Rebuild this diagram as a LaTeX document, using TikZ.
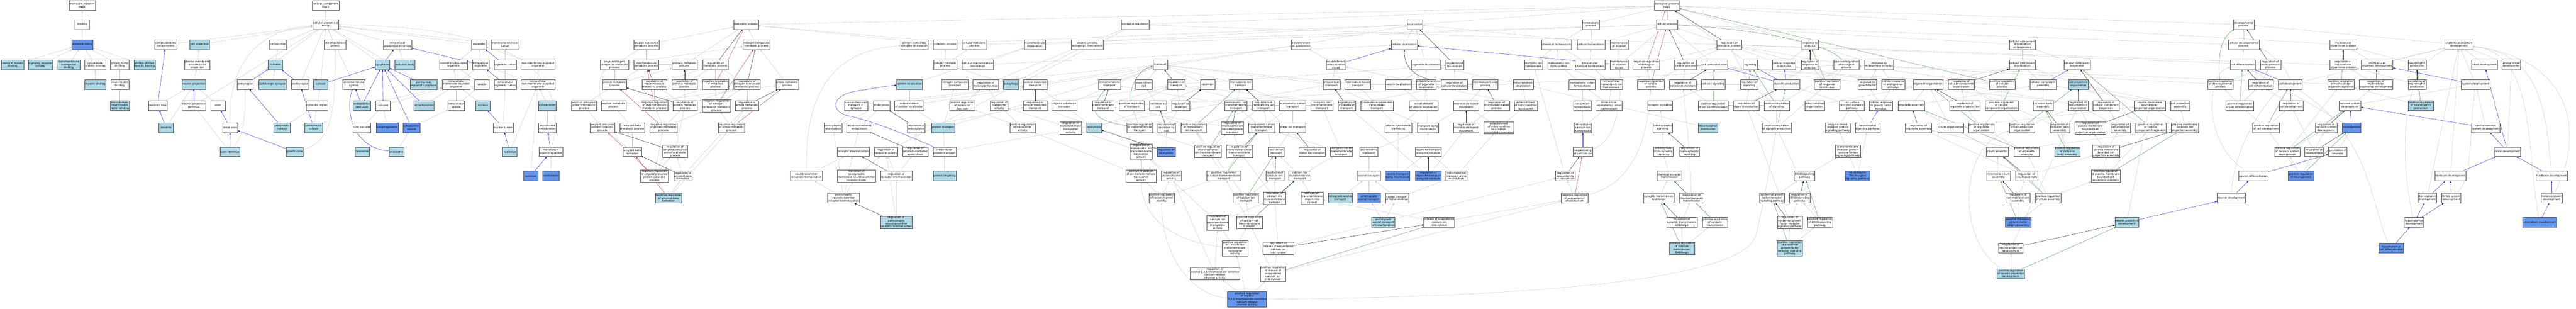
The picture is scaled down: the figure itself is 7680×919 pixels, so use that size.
\documentclass[tikz,border=0pt]{standalone}
\usepackage{fontspec}
\setmainfont{DejaVu Sans}
\usetikzlibrary{arrows.meta,backgrounds}
\definecolor{isagray}{HTML}{C0C0C0}
\definecolor{partblue}{HTML}{0000FF}
\definecolor{negred}{HTML}{B22222}
\definecolor{posgreen}{HTML}{228B22}
\definecolor{hitlight}{HTML}{ADD8E6}
\definecolor{hitdark}{HTML}{6495ED}
\tikzset{
  term/.style={draw=black!70, line width=0.7pt, fill=white, rectangle, align=center,
    font=\fontsize{7.8}{8.8}\selectfont, inner xsep=1.5pt, inner ysep=1.5pt,
    minimum width=43pt, minimum height=29pt},
  lterm/.style={term, fill=hitlight},
  dterm/.style={term, fill=hitdark},
  isa/.style={draw=isagray, line width=0.6pt, -{Triangle[length=5pt,width=4pt]}},
  partof/.style={isa, draw=partblue},
  regul/.style={isa, draw=black},
  negreg/.style={isa, draw=negred},
  posreg/.style={isa, draw=posgreen},
}
\begin{document}
\begin{tikzpicture}[x=1pt,y=-1pt]
  \useasboundingbox (0,0) rectangle (7680,919);
  \node[term] (mf) at (245,17) {molecular\_function\\Hap1};
  \node[term] (binding) at (245,73) {binding};
  \node[dterm] (protbind) at (245,133) {protein binding};
  \node[lterm] (idprot) at (37,193) {identical protein\\binding};
  \node[lterm] (sigrec) at (121,193) {signaling receptor\\binding};
  \node[lterm] (tmtb) at (205,193) {transmembrane\\transporter\\binding};
  \node[term] (cytoskb) at (284,193) {cytoskeletal\\protein binding};
  \node[term] (gfb) at (357,193) {growth factor\\binding};
  \node[lterm] (pdsb) at (431,193) {protein domain\\specific binding};
  \node[lterm] (myosin) at (284,251) {myosin binding};
  \node[term] (ntb) at (357,251) {neurotrophin\\binding};
  \node[lterm] (bdnf) at (357,314) {brain-derived\\neurotrophic\\factor binding};

  \node[term] (cc) at (971,17) {cellular\_component\\Hap1};
  \node[term] (cae) at (971,73) {cellular anatomical\\entity};
  \node[term] (somato) at (494,133) {somatodendritic\\compartment};
  \node[lterm] (cellproj) at (595,133) {cell projection};
  \node[term] (celljunc) at (829,133) {cell junction};
  \node[term] (spg) at (999,133) {site of polarized\\growth};
  \node[term] (ias) at (1185,133) {intracellular\\anatomical structure};
  \node[term] (organelle) at (1428,133) {organelle};
  \node[term] (mel) at (1506,133) {membrane-enclosed\\lumen};
  \node[term] (pmbcp) at (588,193) {plasma membrane\\bounded cell\\projection};
  \node[lterm] (synapse) at (821,193) {synapse};
  \node[lterm] (cytoplasm) at (1140,193) {cytoplasm};
  \node[lterm] (inclbody) at (1207,193) {inclusion body};
  \node[term] (mbo) at (1352,193) {membrane-bounded\\organelle};
  \node[term] (io) at (1433,193) {intracellular\\organelle};
  \node[term] (ol) at (1506,193) {organelle lumen};
  \node[term] (nmbo) at (1604,193) {non-membrane-bounded\\organelle};
  \node[lterm] (neuproj) at (578,251) {neuron projection};
  \node[term] (presyn) at (731,251) {presynapse};
  \node[lterm] (gaba) at (812,251) {GABA-ergic synapse};
  \node[term] (postsyn) at (894,251) {postsynapse};
  \node[lterm] (cytosol) at (956,251) {cytosol};
  \node[term] (endomem) at (1055,251) {endomembrane\\system};
  \node[lterm] (perinuc) at (1263,251) {perinuclear\\region of cytoplasm};
  \node[term] (imbo) at (1360,251) {intracellular\\membrane-bounded\\organelle};
  \node[term] (vesicle) at (1437,251) {vesicle};
  \node[term] (iol) at (1506,251) {intracellular\\organelle lumen};
  \node[term] (inmbo) at (1604,251) {intracellular\\non-membrane-bounded\\organelle};
  \node[term] (dentree) at (470,314) {dendritic tree};
  \node[term] (npterm) at (578,314) {neuron projection\\terminus};
  \node[term] (axon) at (650,314) {axon};
  \node[term] (cytosreg) at (945,314) {cytosolic region};
  \node[lterm] (er) at (1079,314) {endoplasmic\\reticulum};
  \node[term] (vacuole) at (1142,314) {vacuole};
  \node[lterm] (mito) at (1264,314) {mitochondrion};
  \node[term] (ivesicle) at (1360,314) {intracellular\\vesicle};
  \node[lterm] (nucleus) at (1440,314) {nucleus};
  \node[lterm] (cytoskel) at (1632,314) {cytoskeleton};
  \node[lterm] (dendrite) at (495,380) {dendrite};
  \node[term] (distaxon) at (686,380) {distal axon};
  \node[lterm] (presyncyt) at (841,380) {presynaptic\\cytosol};
  \node[lterm] (postsyncyt) at (935,380) {postsynaptic\\cytosol};
  \node[term] (lytvac) at (1079,380) {lytic vacuole};
  \node[dterm] (autophag) at (1154,380) {autophagosome};
  \node[dterm] (cytves) at (1227,380) {cytoplasmic\\vesicle};
  \node[term] (nuclumen) at (1500,380) {nuclear lumen};
  \node[term] (mtcyto) at (1632,380) {microtubule\\cytoskeleton};
  \node[lterm] (axonterm) at (685,452) {axon terminus};
  \node[lterm] (growthcone) at (878,452) {growth cone};
  \node[lterm] (lysosome) at (1080,452) {lysosome};
  \node[lterm] (endosome) at (1182,452) {endosome};
  \node[lterm] (nucleolus) at (1520,452) {nucleolus};
  \node[term] (mtoc) at (1642,452) {microtubule\\organizing center};
  \node[dterm] (centriole) at (1582,524) {centriole};
  \node[dterm] (centrosome) at (1643,524) {centrosome};

  \node[term] (aplmp) at (1741,314) {amyloid precursor\\protein metabolic\\process};
  \node[term] (pmp) at (1832,251) {protein metabolic\\process};
  \node[term] (onmp) at (1832,193) {organonitrogen\\compound metabolic\\process};
  \node[term] (peptmp) at (1829,314) {peptide metabolic\\process};
  \node[term] (aplcp) at (1796,380) {amyloid precursor\\protein catabolic\\process};
  \node[term] (abmp) at (1885,380) {amyloid-beta\\metabolic process};
  \node[term] (abform) at (1885,452) {amyloid-beta\\formation};
  \node[term] (osmp) at (1927,133) {organic substance\\metabolic process};
  \node[term] (mmp) at (1927,193) {macromolecule\\metabolic process};
  \node[term] (rmmp) at (1951,251) {regulation of\\macromolecule\\metabolic process};
  \node[term] (nrmmp) at (1951,314) {negative regulation\\of macromolecule\\metabolic process};
  \node[term] (nraplcp) at (1951,524) {negative regulation\\of amyloid precursor\\protein catabolic\\process};
  \node[term] (metproc) at (2224,73) {metabolic process};
  \node[term] (ncmp) at (2255,133) {nitrogen compound\\metabolic process};
  \node[term] (primp) at (2041,193) {primary metabolic\\process};
  \node[term] (rmp) at (2133,193) {regulation of\\metabolic process};
  \node[term] (rprimp) at (2041,251) {regulation of\\primary metabolic\\process};
  \node[term] (nrmp) at (2133,251) {negative regulation\\of metabolic\\process};
  \node[term] (rncmp) at (2227,251) {regulation of\\nitrogen compound\\metabolic process};
  \node[term] (amidemp) at (2347,251) {amide metabolic\\process};
  \node[term] (rpmp) at (2042,314) {regulation of\\protein metabolic\\process};
  \node[term] (nrncmp) at (2136,315) {negative regulation\\of nitrogen\\compound metabolic\\process};
  \node[term] (ramp) at (2227,314) {regulation of\\amide metabolic\\process};
  \node[term] (nrpmp) at (1978,380) {negative regulation\\of protein metabolic\\process};
  \node[term] (nramp) at (2181,380) {negative regulation\\of amide metabolic\\process};
  \node[term] (raplcp) at (2013,451) {regulation of\\amyloid precursor\\protein catabolic\\process};
  \node[term] (rabform) at (2036,524) {regulation of\\amyloid-beta\\formation};
  \node[lterm] (nrabform) at (1993,590) {negative regulation\\of amyloid-beta\\formation};

  \node[term] (ntri) at (2404,524) {neurotransmitter\\receptor internalization};
  \node[term] (postendo) at (2484,380) {postsynaptic\\endocytosis};
  \node[term] (rme) at (2562,380) {receptor-mediated\\endocytosis};
  \node[term] (recint) at (2544,452) {receptor internalization};
  \node[term] (vmts) at (2552,314) {vesicle-mediated\\transport in\\synapse};
  \node[term] (rpmnrl) at (2553,524) {regulation of\\postsynaptic\\membrane neurotransmitter\\receptor levels};
  \node[term] (pntri) at (2515,590) {postsynaptic\\neurotransmitter\\receptor internalization};

  \node[term] (pccl) at (2726,133) {protein-containing\\complex localization};
  \node[term] (catproc) at (2818,133) {catabolic process};
  \node[term] (cmp) at (2905,133) {cellular metabolic\\process};
  \node[term] (mmloc) at (3085,133) {macromolecule\\localization};
  \node[term] (pua) at (3241,133) {process utilizing\\autophagic mechanism};
  \node[term] (ccp) at (2818,193) {cellular catabolic\\process};
  \node[term] (cmml) at (2915,193) {cellular macromolecule\\localization};
  \node[lterm] (protloc) at (2711,251) {protein localization};
  \node[term] (nctrans) at (2847,251) {nitrogen compound\\transport};
  \node[term] (rmf) at (2939,251) {regulation of\\molecular function};
  \node[lterm] (autophagy) at (3014,251) {autophagy};
  \node[term] (vmt) at (3086,251) {vesicle-mediated\\transport};
  \node[term] (endocyt) at (2628,314) {endocytosis};
  \node[term] (eprotloc) at (2711,314) {establishment\\of protein localization};
  \node[term] (prmf) at (2869,314) {positive regulation\\of molecular\\function};
  \node[term] (rta) at (2979,314) {regulation of\\transporter\\activity};
  \node[term] (rvmt) at (3086,314) {regulation of\\vesicle-mediated\\transport};
  \node[term] (ost) at (3173,314) {organic substance\\transport};
  \node[term] (rendo) at (2731,380) {regulation of\\endocytosis};
  \node[lterm] (prottrans) at (2812,380) {protein transport};
  \node[term] (prta) at (3048,380) {positive regulation\\of transporter\\activity};
  \node[term] (rtta) at (3192,381) {regulation of\\transmembrane\\transporter\\activity};
  \node[term] (rbq) at (2641,452) {regulation of\\biological quality};
  \node[term] (rrme) at (2729,452) {regulation of\\receptor-mediated\\endocytosis};
  \node[term] (ipt) at (2816,452) {intracellular\\protein transport};
  \node[term] (rri) at (2672,524) {regulation of\\receptor internalization};
  \node[lterm] (prottarget) at (2816,524) {protein targeting};
  \node[lterm] (rpntri) at (2672,662) {regulation of\\postsynaptic\\neurotransmitter\\receptor internalization};

  \node[term] (bioreg) at (3384,73) {biological regulation};
  \node[term] (transport) at (3459,193) {transport};
  \node[term] (tmt) at (3308,251) {transmembrane\\transport};
  \node[term] (efc) at (3410,251) {export from\\cell};
  \node[term] (rtrans) at (3507,251) {regulation of\\transport};
  \node[term] (secretion) at (3600,251) {secretion};
  \node[term] (mit) at (3699,251) {monoatomic ion\\transport};
  \node[term] (rtmt) at (3289,314) {regulation of\\transmembrane\\transport};
  \node[term] (prt) at (3374,314) {positive regulation\\of transport};
  \node[term] (sbc) at (3453,314) {secretion by\\cell};
  \node[term] (rsec) at (3520,314) {regulation of\\secretion};
  \node[term] (mitt) at (3685,314) {monoatomic ion\\transmembrane\\transport};
  \node[term] (rmit) at (3767,314) {regulation of\\monoatomic ion\\transport};
  \node[term] (mct) at (3854,314) {monoatomic cation\\transport};
  \node[lterm] (exocyt) at (3262,380) {exocytosis};
  \node[term] (prtmt) at (3398,380) {positive regulation\\of transmembrane\\transport};
  \node[term] (rsbc) at (3478,380) {regulation of\\secretion by\\cell};
  \node[term] (prmit) at (3558,380) {positive regulation\\of monoatomic\\ion transport};
  \node[term] (rmitt) at (3674,381) {regulation of\\monoatomic ion\\transmembrane\\transport};
  \node[term] (mctt) at (3761,380) {monoatomic cation\\transmembrane\\transport};
  \node[term] (metit) at (3854,380) {metal ion transport};
  \node[term] (rmitta) at (3402,451) {regulation of\\monoatomic ion\\transmembrane\\transporter\\activity};
  \node[dterm] (rexo) at (3477,452) {regulation of\\exocytosis};
  \node[term] (prmitt) at (3601,451) {positive regulation\\of monoatomic\\ion transmembrane\\transport};
  \node[term] (rmctt) at (3695,451) {regulation of\\monoatomic cation\\transmembrane\\transport};
  \node[term] (cait) at (3804,452) {calcium ion\\transport};
  \node[term] (pritta) at (3402,524) {positive regulation\\of ion transmembrane\\transporter\\activity};
  \node[term] (rcca) at (3492,524) {regulation of\\cation channel\\activity};
  \node[term] (prctt) at (3648,524) {positive regulation\\of cation transmembrane\\transport};
  \node[term] (rcit) at (3801,524) {regulation of\\calcium ion\\transport};
  \node[term] (prcca) at (3463,590) {positive regulation\\of cation channel\\activity};
  \node[term] (prcit) at (3714,590) {positive regulation\\of calcium ion\\transport};
  \node[term] (rcitt) at (3800,590) {regulation of\\calcium ion\\transmembrane\\transport};
  \node[term] (rcitta) at (3630,663) {regulation of\\calcium ion\\transmembrane\\transporter\\activity};
  \node[term] (prcitt) at (3725,662) {positive regulation\\of calcium ion\\transmembrane\\transport};
  \node[term] (prcitta) at (3682,739) {positive regulation\\of calcium ion\\transmembrane\\transporter\\activity};
  \node[term] (rrscc) at (3811,739) {regulation of\\release of sequestered\\calcium ion\\into cytosol};
  \node[term] (rip3) at (3622,815) {regulation of\\inositol 1,4,5-trisphosphate-sensitive\\calcium-release\\channel activity};
  \node[term] (prrscc) at (3795,815) {positive regulation\\of release of\\sequestered\\calcium ion\\into cytosol};
  \node[dterm] (prip3) at (3718,891) {positive regulation\\of inositol\\1,4,5-trisphosphate-sensitive\\calcium-release\\channel activity};

  \node[term] (localization) at (4218,73) {localization};
  \node[term] (eloc) at (3879,133) {establishment\\of localization};
  \node[term] (cellloc) at (4186,133) {cellular localization};
  \node[term] (elocc) at (3983,193) {establishment\\of localization\\in cell};
  \node[term] (orgloc) at (4251,193) {organelle localization};
  \node[term] (rloc) at (4337,193) {regulation of\\localization};
  \node[term] (it) at (3970,251) {intracellular\\transport};
  \node[term] (mtbt) at (4048,251) {microtubule-based\\transport};
  \node[term] (vesloc) at (4169,251) {vesicle localization};
  \node[term] (eorgloc) at (4252,251) {establishment\\of organelle\\localization};
  \node[term] (rcellloc) at (4336,251) {regulation of\\cellular localization};
  \node[term] (mtbp) at (4428,251) {microtubule-based\\process};
  \node[term] (iitt) at (3941,314) {inorganic ion\\transmembrane\\transport};
  \node[term] (rit) at (4015,314) {regulation of\\intracellular\\transport};
  \node[term] (cdit) at (4105,314) {cytoskeleton-dependent\\intracellular\\transport};
  \node[term] (evl) at (4244,314) {establishment\\of vesicle localization};
  \node[term] (mtbm) at (4371,314) {microtubule-based\\movement};
  \node[term] (rmtbp) at (4462,314) {regulation of\\microtubule-based\\process};
  \node[term] (vct) at (4169,380) {vesicle cytoskeletal\\trafficking};
  \node[term] (tam) at (4257,380) {transport along\\microtubule};
  \node[term] (rmtbm) at (4371,380) {regulation of\\microtubule-based\\movement};
  \node[term] (emlmm) at (4469,381) {establishment\\of mitochondrion\\localization,\\microtubule-mediated};
  \node[term] (rmetit) at (3912,452) {regulation of\\metal ion transport};
  \node[term] (ictt) at (3999,452) {inorganic cation\\transmembrane\\transport};
  \node[term] (adt) at (4081,452) {axo-dendritic\\transport};
  \node[term] (otam) at (4258,452) {organelle transport\\along microtubule};
  \node[term] (catt) at (3875,524) {calcium ion\\transmembrane\\transport};
  \node[term] (axtrans) at (4081,524) {axonal transport};
  \node[dterm] (vtam) at (4166,524) {vesicle transport\\along microtubule};
  \node[dterm] (rotam) at (4258,524) {regulation of\\organelle transport\\along microtubule};
  \node[term] (mtam) at (4342,524) {mitochondrion\\transport along\\microtubule};
  \node[term] (citic) at (3912,590) {calcium ion\\transmembrane\\import into\\cytosol};
  \node[lterm] (rat) at (3996,590) {retrograde axonal\\transport};
  \node[dterm] (aat) at (4081,590) {anterograde\\axonal transport};
  \node[term] (atm) at (4165,590) {axonal transport\\of mitochondrion};
  \node[lterm] (aatm) at (4124,662) {anterograde\\axonal transport\\of mitochondrion};
  \node[term] (rscc) at (4291,662) {release of sequestered\\calcium ion\\into cytosol};

  \node[term] (bp) at (4970,17) {biological\_process\\Hap1};
  \node[term] (homeo) at (4743,73) {homeostatic\\process};
  \node[term] (cellproc) at (4970,73) {cellular process};
  \node[term] (chemhom) at (4641,133) {chemical homeostasis};
  \node[term] (cellhom) at (4743,133) {cellular homeostasis};
  \node[term] (mloc) at (4827,133) {maintenance\\of location};
  \node[term] (rbp) at (5155,133) {regulation of\\biological process};
  \node[term] (iih) at (4572,193) {inorganic ion\\homeostasis};
  \node[term] (mih) at (4647,193) {monoatomic ion\\homeostasis};
  \node[term] (ichh) at (4740,193) {intracellular\\chemical homeostasis};
  \node[term] (mlc) at (4827,193) {maintenance\\of location\\in cell};
  \node[term] (nrbp) at (4908,193) {negative regulation\\of biological\\process};
  \node[term] (rcp) at (5025,193) {regulation of\\cellular process};
  \node[term] (cellcomm) at (5111,193) {cell communication};
  \node[term] (mitoloc) at (4541,251) {mitochondrion\\localization};
  \node[term] (mch) at (4717,251) {monoatomic cation\\homeostasis};
  \node[term] (imih) at (4804,251) {intracellular\\monoatomic ion\\homeostasis};
  \node[term] (nrcp) at (4922,251) {negative regulation\\of cellular\\process};
  \node[term] (rcc) at (5017,251) {regulation of\\cell communication};
  \node[term] (ccs) at (5107,251) {cell-cell signaling};
  \node[term] (emloc) at (4549,314) {establishment\\of mitochondrion\\localization};
  \node[term] (caih) at (4717,314) {calcium ion\\homeostasis};
  \node[term] (imch) at (4797,314) {intracellular\\monoatomic cation\\homeostasis};
  \node[term] (synsig) at (4949,314) {synaptic signaling};
  \node[term] (prcc) at (5107,314) {positive regulation\\of cell communication};
  \node[term] (icch) at (4719,380) {intracellular\\calcium ion\\homeostasis};
  \node[term] (tss) at (4957,380) {trans-synaptic\\signaling};
  \node[lterm] (mitodist) at (5092,380) {mitochondrion\\distribution};
  \node[term] (seqca) at (4719,452) {sequestering\\of calcium ion};
  \node[term] (atss) at (4959,452) {anterograde\\trans-synaptic\\signaling};
  \node[term] (rtss) at (5037,452) {regulation of\\trans-synaptic\\signaling};
  \node[term] (rseqca) at (4667,524) {regulation of\\sequestering\\of calcium ion};
  \node[term] (cst) at (4977,524) {chemical synaptic\\transmission};
  \node[term] (nrseqca) at (4694,590) {negative regulation\\of sequestering\\of calcium ion};
  \node[term] (stgaba) at (4946,590) {synaptic transmission,\\GABAergic};
  \node[term] (mcst) at (5043,590) {modulation of\\chemical synaptic\\transmission};
  \node[term] (rstg) at (5014,662) {regulation of\\synaptic transmission,\\GABAergic};
  \node[term] (prst) at (5113,662) {positive regulation\\of synaptic\\transmission};
  \node[lterm] (prstg) at (5015,739) {positive regulation\\of synaptic\\transmission,\\GABAergic};

  \node[term] (rts) at (5396,133) {response to\\stimulus};
  \node[term] (signaling) at (5218,193) {signaling};
  \node[term] (crs) at (5319,193) {cellular response\\to stimulus};
  \node[term] (rrs) at (5396,193) {regulation of\\response to\\stimulus};
  \node[term] (prbp) at (5505,193) {positive regulation\\of biological\\process};
  \node[term] (res) at (5602,193) {response to\\endogenous stimulus};
  \node[term] (rsig) at (5215,251) {regulation of\\signaling};
  \node[term] (sigt) at (5326,251) {signal transduction};
  \node[term] (prrs) at (5447,251) {positive regulation\\of response\\to stimulus};
  \node[term] (rgf) at (5567,251) {response to\\growth factor};
  \node[term] (cres) at (5644,251) {cellular response\\to endogenous\\stimulus};
  \node[term] (orgorg) at (5748,251) {organelle organization};
  \node[term] (rsigt) at (5206,314) {regulation of\\signal transduction};
  \node[term] (psig) at (5297,314) {positive regulation\\of signaling};
  \node[term] (mitoorg) at (5410,314) {mitochondrion\\organization};
  \node[term] (csrsp) at (5521,314) {cell surface\\receptor signaling\\pathway};
  \node[term] (crgf) at (5607,314) {cellular response\\to growth factor\\stimulus};
  \node[term] (orgasm) at (5698,314) {organelle assembly};
  \node[term] (psigt) at (5297,380) {positive regulation\\of signal transduction};
  \node[term] (elrsp) at (5479,380) {enzyme-linked\\receptor protein\\signaling pathway};
  \node[term] (ntsp) at (5568,380) {neurotrophin\\signaling pathway};
  \node[term] (rorgasm) at (5720,380) {regulation of\\organelle assembly};
  \node[term] (trptk) at (5509,451) {transmembrane\\receptor protein\\tyrosine kinase\\signaling pathway};
  \node[term] (erbb) at (5380,524) {ERBB signaling\\pathway};
  \node[dterm] (ntrk) at (5538,524) {neurotrophin\\TRK receptor\\signaling pathway};
  \node[term] (egfr) at (5283,590) {epidermal growth\\factor receptor\\signaling pathway};
  \node[term] (rerbb) at (5365,590) {regulation of\\ERBB signaling\\pathway};
  \node[term] (regfr) at (5336,662) {regulation of\\epidermal growth\\factor receptor\\signaling pathway};
  \node[term] (perbb) at (5426,662) {positive regulation\\of ERBB signaling\\pathway};
  \node[lterm] (pegfr) at (5336,739) {positive regulation\\of epidermal\\growth factor\\receptor signaling\\pathway};

  \node[term] (ccob) at (6029,133) {cellular component\\organization\\or biogenesis};
  \node[term] (cco) at (6029,193) {cellular component\\organization};
  \node[term] (ccb) at (6192,193) {cellular component\\biogenesis};
  \node[term] (rcco) at (5847,251) {regulation of\\cellular component\\organization};
  \node[term] (pcp) at (5969,251) {positive regulation\\of cellular\\process};
  \node[term] (cca) at (6091,251) {cellular component\\assembly};
  \node[lterm] (cpo) at (6196,251) {cell projection\\organization};
  \node[term] (rorgorg) at (5858,314) {regulation of\\organelle organization};
  \node[term] (pcco) at (5967,314) {positive regulation\\of cellular\\component organization};
  \node[term] (ibasm) at (6091,314) {inclusion body\\assembly};
  \node[term] (rcpo) at (6196,314) {regulation of\\cell projection\\organization};
  \node[term] (rccb) at (6279,314) {regulation of\\cellular component\\biogenesis};
  \node[term] (pmbcpo) at (6409,314) {plasma membrane\\bounded cell\\projection organization};
  \node[term] (ciliumorg) at (5816,380) {cilium organization};
  \node[term] (porgorg) at (5907,380) {positive regulation\\of organelle\\organization};
  \node[term] (pcpo) at (6028,380) {positive regulation\\of cell projection\\organization};
  \node[term] (ribasm) at (6141,380) {regulation of\\inclusion body\\assembly};
  \node[term] (rpmbcpo) at (6232,381) {regulation of\\plasma membrane\\bounded cell\\projection organization};
  \node[term] (rcpa) at (6322,380) {regulation of\\cell projection\\assembly};
  \node[term] (pccb) at (6412,380) {positive regulation\\of cellular\\component biogenesis};
  \node[term] (ciliumasm) at (5955,452) {cilium assembly};
  \node[term] (porgasm) at (6042,452) {positive regulation\\of organelle\\assembly};
  \node[lterm] (pibasm) at (6163,452) {positive regulation\\of inclusion\\body assembly};
  \node[term] (rpmbcpa) at (6279,451) {regulation of\\plasma membrane\\bounded cell\\projection assembly};
  \node[term] (nmca) at (5958,524) {non-motile cilium\\assembly};
  \node[term] (rca) at (6042,524) {regulation of\\cilium assembly};
  \node[term] (ppmbcpa) at (6278,524) {positive regulation\\of plasma membrane\\bounded cell\\projection assembly};
  \node[term] (rnmca) at (6016,590) {regulation of\\non-motile cilium\\assembly};
  \node[term] (pca) at (6106,590) {positive regulation\\of cilium assembly};
  \node[dterm] (pnmca) at (6017,662) {positive regulation\\of non-motile\\cilium assembly};
  \node[lterm] (npd) at (6341,662) {neuron projection\\development};
  \node[term] (rnpd) at (5995,739) {regulation of\\neuron projection\\development};
  \node[lterm] (pnpd) at (5995,815) {positive regulation\\of neuron projection\\development};

  \node[term] (devproc) at (6689,73) {developmental\\process};
  \node[term] (cdp) at (6689,133) {cellular developmental\\process};
  \node[term] (mop) at (6986,133) {multicellular\\organismal process};
  \node[term] (celldiff) at (6686,193) {cell differentiation};
  \node[term] (rdp) at (6769,193) {regulation of\\developmental\\process};
  \node[term] (rmop) at (6986,193) {regulation of\\multicellular\\organismal process};
  \node[term] (pdp) at (6620,251) {positive regulation\\of developmental\\process};
  \node[term] (rcd) at (6740,251) {regulation of\\cell differentiation};
  \node[term] (celldev) at (6828,251) {cell development};
  \node[term] (pmop) at (6979,251) {positive regulation\\of multicellular\\organismal process};
  \node[term] (rmod) at (7083,251) {regulation of\\multicellular\\organismal development};
  \node[term] (cpa) at (6500,314) {cell projection\\assembly};
  \node[term] (pcd) at (6677,314) {positive regulation\\of cell differentiation};
  \node[term] (rcdev) at (6831,314) {regulation of\\cell development};
  \node[term] (nsd) at (7006,314) {nervous system\\development};
  \node[term] (pmbcpa) at (6514,380) {plasma membrane\\bounded cell\\projection assembly};
  \node[term] (pcdev) at (6756,380) {positive regulation\\of cell development};
  \node[term] (rnsd) at (6935,380) {regulation of\\nervous system\\development};
  \node[dterm] (neurog) at (7011,380) {neurogenesis};
  \node[term] (pnsd) at (6819,452) {positive regulation\\of nervous system\\development};
  \node[term] (rneurog) at (6899,452) {regulation of\\neurogenesis};
  \node[term] (genneur) at (6969,452) {generation of\\neurons};
  \node[term] (neurdiff) at (6718,524) {neuron differentiation};
  \node[dterm] (pneurog) at (6860,524) {positive regulation\\of neurogenesis};
  \node[term] (neurdev) at (6652,590) {neuron development};

  \node[term] (asd) at (7331,133) {anatomical structure\\development};
  \node[term] (mod) at (7087,193) {multicellular\\organism development};
  \node[term] (ntprod) at (7206,193) {neurotrophin\\production};
  \node[term] (headdev) at (7407,193) {head development};
  \node[term] (aod) at (7487,193) {animal organ\\development};
  \node[term] (rntprod) at (7206,251) {regulation of\\neurotrophin\\production};
  \node[term] (sysdev) at (7381,251) {system development};
  \node[lterm] (pntprod) at (7217,314) {positive regulation\\of neurotrophin\\production};
  \node[term] (cnsd) at (7411,380) {central nervous\\system development};
  \node[term] (braindev) at (7476,452) {brain development};
  \node[term] (forebrain) at (7306,524) {forebrain development};
  \node[term] (hindbrain) at (7607,524) {hindbrain development};
  \node[term] (dienc) at (7236,590) {diencephalon\\development};
  \node[term] (limbic) at (7308,590) {limbic system\\development};
  \node[term] (metenc) at (7607,590) {metencephalon\\development};
  \node[term] (hypodev) at (7197,662) {hypothalamus\\development};
  \node[dterm] (cerebellum) at (7571,662) {cerebellum development};
  \node[dterm] (hcd) at (7129,739) {hypothalamus\\cell differentiation};

  \begin{scope}[on background layer]
    \path (binding) edge[isa] (mf);
    \path (protbind) edge[isa] (binding);
    \path (idprot) edge[isa] (protbind);
    \path (sigrec) edge[isa] (protbind);
    \path (tmtb) edge[isa] (protbind);
    \path (cytoskb) edge[isa] (protbind);
    \path (gfb) edge[isa] (protbind);
    \path (pdsb) edge[isa] (protbind);
    \path (myosin) edge[isa] (cytoskb);
    \path (ntb) edge[isa] (gfb);
    \path (bdnf) edge[isa] (ntb);

    \path (cae) edge[isa] (cc);
    \path (somato) edge[isa] (cae);
    \path (cellproj) edge[isa] (cae);
    \path (celljunc) edge[isa] (cae);
    \path (spg) edge[isa] (cae);
    \path (ias) edge[isa] (cae);
    \path (organelle) edge[isa] (cae);
    \path (mel) edge[isa] (cae);
    \path (presyn) edge[isa] (cae);
    \path (postsyn) edge[isa] (cae);
    \path (cytosol) edge[isa] (cae);
    \path (endomem) edge[isa] (cae);
    \path (cytoplasm) edge[isa] (cae);
    \path (perinuc) edge[isa] (cae);
    \path (npterm) edge[isa] (cae);
    \path (synapse) edge[isa] (celljunc);
    \path (gaba) edge[isa] (synapse);
    \path (pmbcp) edge[isa] (cellproj);
    \path (neuproj) edge[isa] (pmbcp);
    \path (dentree) edge[isa] (neuproj);
    \path (axon) edge[isa] (neuproj);
    \path (dendrite) edge[isa] (neuproj);
    \path (inclbody) edge[isa] (ias);
    \path (cytosreg) edge[isa] (cytosol);
    \path (presyncyt) edge[isa] (cytosreg);
    \path (postsyncyt) edge[isa] (cytosreg);
    \path (axonterm) edge[isa] (npterm);
    \path (lytvac) edge[isa] (vacuole);
    \path (autophag) edge[isa] (vacuole);
    \path (lysosome) edge[isa] (lytvac);
    \path (endosome) edge[isa] (cytves);
    \path (er) edge[isa] (imbo);
    \path (vacuole) edge[isa] (imbo);
    \path (mito) edge[isa] (imbo);
    \path (cytves) edge[isa] (ivesicle);
    \path (mbo) edge[isa] (organelle);
    \path (io) edge[isa] (organelle);
    \path (nmbo) edge[isa] (organelle);
    \path (ol) edge[isa] (mel);
    \path (imbo) edge[isa] (mbo);
    \path (imbo) edge[isa] (io);
    \path (vesicle) edge[isa] (mbo);
    \path (ivesicle) edge[isa] (imbo);
    \path (ivesicle) edge[isa] (vesicle);
    \path (nucleus) edge[isa] (imbo);
    \path (iol) edge[isa] (ol);
    \path (inmbo) edge[isa] (io);
    \path (inmbo) edge[isa] (nmbo);
    \path (nuclumen) edge[isa] (iol);
    \path (cytoskel) edge[isa] (inmbo);
    \path (mtcyto) edge[isa] (cytoskel);
    \path (nucleolus) edge[isa] (inmbo);
    \path (centriole) edge[isa] (inmbo);
    \path (centrosome) edge[isa] (mtoc);
    \draw[isa] (mtoc) .. controls (1690,250) and (1600,80) .. (cae);
    \draw[isa] (distaxon) .. controls (680,160) and (800,85) .. (cae);
    \draw[isa] (growthcone) .. controls (1000,420) and (999,300) .. (spg);
    \draw[isa] (axonterm) .. controls (730,400) and (731,320) .. (presyn);
    \path (dentree) edge[partof] (somato);
    \path (npterm) edge[partof] (neuproj);
    \path (dendrite) edge[partof] (dentree);
    \path (presyn) edge[partof] (synapse);
    \path (postsyn) edge[partof] (synapse);
    \path (cytoplasm) edge[partof] (ias);
    \path (io) edge[partof] (ias);
    \path (cytosol) edge[partof] (cytoplasm);
    \path (er) edge[partof] (cytoplasm);
    \path (vacuole) edge[partof] (cytoplasm);
    \path (cytves) edge[partof] (cytoplasm);
    \path (mito) edge[partof] (cytoplasm);
    \path (perinuc) edge[partof] (cytoplasm);
    \path (er) edge[partof] (endomem);
    \path (presyncyt) edge[partof] (presyn);
    \path (postsyncyt) edge[partof] (postsyn);
    \path (distaxon) edge[partof] (axon);
    \path (axonterm) edge[partof] (distaxon);
    \path (growthcone) edge[partof] (distaxon);
    \path (ol) edge[partof] (organelle);
    \path (iol) edge[partof] (io);
    \path (nuclumen) edge[partof] (nucleus);
    \path (nucleolus) edge[partof] (nuclumen);
    \path (mtoc) edge[partof] (mtcyto);
    \path (centriole) edge[partof] (mtoc);
    \draw[partof] (endosome) .. controls (1050,440) and (1030,330) .. (endomem);

    \path (aplmp) edge[isa] (pmp);
    \path (pmp) edge[isa] (onmp);
    \path (onmp) edge[isa] (osmp);
    \path (pmp) edge[isa] (mmp);
    \path (pmp) edge[isa] (primp);
    \path (peptmp) edge[isa] (amidemp);
    \path (aplcp) edge[isa] (aplmp);
    \path (abmp) edge[isa] (peptmp);
    \path (abform) edge[isa] (aplcp);
    \path (abform) edge[isa] (abmp);
    \path (osmp) edge[isa] (metproc);
    \path (mmp) edge[isa] (osmp);
    \path (mmp) edge[isa] (primp);
    \path (primp) edge[isa] (metproc);
    \path (ncmp) edge[isa] (metproc);
    \path (amidemp) edge[isa] (ncmp);
    \path (onmp) edge[isa] (ncmp);
    \path (rmmp) edge[isa] (rmp);
    \path (rprimp) edge[isa] (rmp);
    \path (nrmp) edge[isa] (rmp);
    \path (rncmp) edge[isa] (rmp);
    \path (nrmmp) edge[isa] (rmmp);
    \path (nrmmp) edge[isa] (nrmp);
    \path (rpmp) edge[isa] (rmmp);
    \path (rpmp) edge[isa] (rprimp);
    \path (rpmp) edge[isa] (rncmp);
    \path (nrncmp) edge[isa] (nrmp);
    \path (nrncmp) edge[isa] (rncmp);
    \path (ramp) edge[isa] (rncmp);
    \path (nrpmp) edge[isa] (rpmp);
    \path (nrpmp) edge[isa] (nrncmp);
    \path (nrpmp) edge[isa] (nrmmp);
    \path (nramp) edge[isa] (nrncmp);
    \path (nramp) edge[isa] (ramp);
    \path (raplcp) edge[isa] (rpmp);
    \path (nraplcp) edge[isa] (raplcp);
    \path (nraplcp) edge[isa] (nrpmp);
    \path (rabform) edge[isa] (raplcp);
    \path (rabform) edge[isa] (ramp);
    \path (nrabform) edge[isa] (nraplcp);
    \path (nrabform) edge[isa] (rabform);
    \path (nrabform) edge[isa] (nramp);
    \draw[isa] (peptmp) .. controls (1780,290) and (1785,220) .. (onmp);
    \path (rmp) edge[regul] (metproc);
    \path (rprimp) edge[regul] (primp);
    \path (rmmp) edge[regul] (mmp);
    \path (rncmp) edge[regul] (ncmp);
    \path (ramp) edge[regul] (amidemp);
    \path (rpmp) edge[regul] (pmp);
    \path (raplcp) edge[regul] (aplcp);
    \path (rabform) edge[regul] (abform);
    \path (nrmp) edge[negreg] (metproc);
    \path (nrncmp) edge[negreg] (ncmp);
    \path (nrmmp) edge[negreg] (mmp);
    \path (nrpmp) edge[negreg] (pmp);
    \path (nramp) edge[negreg] (amidemp);
    \path (nraplcp) edge[negreg] (aplcp);
    \path (nrabform) edge[negreg] (abform);

    \path (ntri) edge[isa] (recint);
    \path (postendo) edge[isa] (vmts);
    \path (postendo) edge[isa] (endocyt);
    \path (recint) edge[isa] (rme);
    \path (pntri) edge[isa] (recint);
    \path (pntri) edge[isa] (ntri);
    \path (pntri) edge[isa] (rpmnrl);
    \path (pntri) edge[isa] (postendo);
    \path (rme) edge[isa] (endocyt);
    \path (vmts) edge[isa] (vmt);
    \path (endocyt) edge[isa] (vmt);
    \path (rpmnrl) edge[isa] (rbq);
    \path (rpntri) edge[isa] (rri);
    \path (rpntri) edge[isa] (rbq);
    \path (rri) edge[isa] (rbq);
    \path (rri) edge[isa] (rrme);
    \path (rrme) edge[isa] (rendo);
    \path (rendo) edge[isa] (rvmt);
    \path (rvmt) edge[isa] (rtrans);
    \draw[isa] (ntri) .. controls (2400,250) and (2500,150) .. (pccl);
    \path (rpntri) edge[regul] (pntri);
    \path (rri) edge[regul] (recint);
    \path (rrme) edge[regul] (rme);
    \path (rendo) edge[regul] (endocyt);
    \path (rvmt) edge[regul] (vmt);

    \path (pccl) edge[isa] (localization);
    \path (catproc) edge[isa] (metproc);
    \path (cmp) edge[isa] (metproc);
    \path (cmp) edge[isa] (cellproc);
    \path (ccp) edge[isa] (catproc);
    \path (ccp) edge[isa] (cmp);
    \path (cmml) edge[isa] (mmloc);
    \path (cmml) edge[isa] (cellloc);
    \path (mmloc) edge[isa] (localization);
    \path (protloc) edge[isa] (mmloc);
    \path (autophagy) edge[isa] (ccp);
    \path (autophagy) edge[isa] (pua);
    \path (pua) edge[isa] (cellproc);
    \path (eprotloc) edge[isa] (protloc);
    \path (eprotloc) edge[isa] (eloc);
    \path (prottrans) edge[isa] (eprotloc);
    \path (prottrans) edge[isa] (nctrans);
    \path (prottrans) edge[isa] (transport);
    \path (ipt) edge[isa] (prottrans);
    \path (ipt) edge[isa] (it);
    \path (prottarget) edge[isa] (ipt);
    \path (nctrans) edge[isa] (transport);
    \path (vmt) edge[isa] (transport);
    \path (ost) edge[isa] (transport);
    \path (rmf) edge[isa] (bioreg);
    \path (prmf) edge[isa] (rmf);
    \path (rta) edge[isa] (rmf);
    \path (prta) edge[isa] (rta);
    \path (prta) edge[isa] (prmf);
    \path (rtta) edge[isa] (rta);
    \path (pritta) edge[isa] (prta);
    \path (rbq) edge[isa] (bioreg);
    \draw[partof] (ipt) .. controls (2700,400) and (2600,360) .. (2530,345) .. controls (2470,330) and (2480,280) .. (2560,270) .. controls (2610,262) and (2650,255) .. (protloc);

    \path (tmt) edge[isa] (transport);
    \path (efc) edge[isa] (transport);
    \path (secretion) edge[isa] (transport);
    \path (mit) edge[isa] (transport);
    \path (rtrans) edge[isa] (rloc);
    \path (rtmt) edge[isa] (rtrans);
    \path (prt) edge[isa] (rtrans);
    \path (prt) edge[isa] (prbp);
    \path (sbc) edge[isa] (efc);
    \path (sbc) edge[isa] (secretion);
    \path (rsec) edge[isa] (rtrans);
    \path (mitt) edge[isa] (mit);
    \path (mitt) edge[isa] (tmt);
    \path (mct) edge[isa] (mit);
    \path (exocyt) edge[isa] (sbc);
    \path (exocyt) edge[isa] (vmt);
    \path (prtmt) edge[isa] (rtmt);
    \path (prtmt) edge[isa] (prt);
    \path (rsbc) edge[isa] (rsec);
    \path (prmit) edge[isa] (prt);
    \path (prmit) edge[isa] (rmit);
    \path (rmit) edge[isa] (rtrans);
    \path (rmitt) edge[isa] (rmit);
    \path (rmitt) edge[isa] (rtmt);
    \path (mctt) edge[isa] (mitt);
    \path (mctt) edge[isa] (mct);
    \path (metit) edge[isa] (mct);
    \path (rmitta) edge[isa] (rtta);
    \path (rexo) edge[isa] (rsbc);
    \path (rexo) edge[isa] (rvmt);
    \path (prmitt) edge[isa] (prmit);
    \path (prmitt) edge[isa] (rmitt);
    \path (prmitt) edge[isa] (prtmt);
    \path (rmctt) edge[isa] (rmitt);
    \path (cait) edge[isa] (metit);
    \path (pritta) edge[isa] (rmitta);
    \path (rcca) edge[isa] (rmitta);
    \path (prctt) edge[isa] (prmitt);
    \path (prctt) edge[isa] (rmctt);
    \path (rcit) edge[isa] (rmit);
    \path (prcca) edge[isa] (pritta);
    \path (prcca) edge[isa] (rcca);
    \path (prcca) edge[isa] (prctt);
    \path (prcit) edge[isa] (prmit);
    \path (prcit) edge[isa] (rcit);
    \path (rcitt) edge[isa] (rcit);
    \path (rcitt) edge[isa] (rmctt);
    \path (rcitta) edge[isa] (rmitta);
    \path (rcitta) edge[isa] (rcitt);
    \path (prcitt) edge[isa] (prcit);
    \path (prcitt) edge[isa] (rcitt);
    \path (prcitt) edge[isa] (prctt);
    \path (prcitta) edge[isa] (rcitta);
    \path (prcitta) edge[isa] (prcitt);
    \path (rrscc) edge[isa] (rcitt);
    \path (rip3) edge[isa] (rcitta);
    \path (rip3) edge[isa] (rcca);
    \path (prrscc) edge[isa] (rrscc);
    \path (prrscc) edge[isa] (prcitt);
    \path (prip3) edge[isa] (rip3);
    \path (prip3) edge[isa] (prcitta);
    \path (prip3) edge[isa] (prrscc);
    \draw[isa] (prcitta) .. controls (3500,720) and (3405,650) .. (pritta);
    \draw[isa] (prip3) .. controls (3550,880) and (3465,760) .. (prcca);
    \draw[isa] (prip3) .. controls (4600,885) and (5200,830) .. (5235,700) .. controls (5260,600) and (5285,450) .. (psigt);
    \path (rtrans) edge[regul] (transport);
    \path (rtmt) edge[regul] (tmt);
    \path (rsec) edge[regul] (secretion);
    \path (rmit) edge[regul] (mit);
    \path (rsbc) edge[regul] (sbc);
    \path (rexo) edge[regul] (exocyt);
    \path (rmitt) edge[regul] (mitt);
    \path (rmctt) edge[regul] (mctt);
    \path (rcit) edge[regul] (cait);
    \path (rcitt) edge[regul] (catt);
    \path (rrscc) edge[regul] (rscc);
    \path (rmetit) edge[regul] (metit);
    \path (prmit) edge[posreg] (mit);
    \path (prmitt) edge[posreg] (mitt);
    \path (prctt) edge[posreg] (mctt);
    \path (prcit) edge[posreg] (cait);
    \path (prcitt) edge[posreg] (catt);
    \path (prrscc) edge[posreg] (rscc);
    \draw[posreg] (prtmt) .. controls (3260,360) and (3240,330) .. (tmt);
    \draw[posreg] (prt) .. controls (3366,250) and (3400,205) .. (transport);

    \path (eloc) edge[isa] (localization);
    \path (cellloc) edge[isa] (localization);
    \path (orgloc) edge[isa] (localization);
    \path (transport) edge[isa] (eloc);
    \path (elocc) edge[isa] (eloc);
    \path (it) edge[isa] (elocc);
    \path (it) edge[isa] (transport);
    \path (vesloc) edge[isa] (orgloc);
    \path (eorgloc) edge[isa] (orgloc);
    \path (eorgloc) edge[isa] (elocc);
    \path (rcellloc) edge[isa] (rloc);
    \path (mtbt) edge[isa] (mtbp);
    \path (mtbt) edge[isa] (transport);
    \path (mtbm) edge[isa] (mtbp);
    \path (rmtbm) edge[isa] (rmtbp);
    \path (emlmm) edge[isa] (mtbm);
    \path (emlmm) edge[isa] (emloc);
    \path (iitt) edge[isa] (mitt);
    \path (ictt) edge[isa] (iitt);
    \path (ictt) edge[isa] (mctt);
    \path (rit) edge[isa] (rtrans);
    \path (rit) edge[isa] (rcellloc);
    \path (cdit) edge[isa] (it);
    \path (cdit) edge[isa] (mtbt);
    \path (evl) edge[isa] (vesloc);
    \path (evl) edge[isa] (eorgloc);
    \path (vct) edge[isa] (cdit);
    \path (vct) edge[isa] (evl);
    \path (tam) edge[isa] (cdit);
    \path (tam) edge[isa] (mtbm);
    \path (adt) edge[isa] (tam);
    \path (otam) edge[isa] (tam);
    \path (otam) edge[isa] (eorgloc);
    \path (catt) edge[isa] (ictt);
    \path (catt) edge[isa] (cait);
    \path (axtrans) edge[isa] (adt);
    \path (vtam) edge[isa] (vct);
    \path (vtam) edge[isa] (otam);
    \path (mtam) edge[isa] (otam);
    \path (mtam) edge[isa] (emlmm);
    \path (rotam) edge[isa] (rit);
    \path (rotam) edge[isa] (rmtbm);
    \path (citic) edge[isa] (catt);
    \path (rat) edge[isa] (axtrans);
    \path (aat) edge[isa] (axtrans);
    \path (atm) edge[isa] (axtrans);
    \path (atm) edge[isa] (mtam);
    \path (aatm) edge[isa] (aat);
    \path (aatm) edge[isa] (atm);
    \path (rscc) edge[isa] (citic);
    \path (rscc) edge[isa] (nrseqca);
    \path (rrscc) edge[isa] (rseqca);
    \path (prrscc) edge[isa] (nrseqca);
    \path (rmetit) edge[isa] (rmit);
    \path (rloc) edge[regul] (localization);
    \path (rit) edge[regul] (it);
    \path (rmtbp) edge[regul] (mtbp);
    \path (rmtbm) edge[regul] (mtbm);
    \path (rotam) edge[regul] (otam);
    \draw[regul] (rcellloc) .. controls (4210,230) and (4188,200) .. (cellloc);
    \path (elocc) edge[partof] (cellloc);
    \path (mlc) edge[partof] (cellloc);

    \path (metproc) edge[isa] (bp);
    \path (bioreg) edge[isa] (bp);
    \path (localization) edge[isa] (bp);
    \path (homeo) edge[isa] (bp);
    \path (cellproc) edge[isa] (bp);
    \path (devproc) edge[isa] (bp);
    \path (mop) edge[isa] (bp);
    \path (rts) edge[isa] (bp);
    \path (signaling) edge[isa] (bp);
    \path (chemhom) edge[isa] (homeo);
    \path (cellhom) edge[isa] (homeo);
    \path (cellhom) edge[isa] (cellproc);
    \path (mloc) edge[isa] (localization);
    \path (iih) edge[isa] (chemhom);
    \path (mih) edge[isa] (chemhom);
    \path (ichh) edge[isa] (chemhom);
    \path (ichh) edge[isa] (cellhom);
    \path (mlc) edge[isa] (mloc);
    \path (mlc) edge[isa] (cellproc);
    \path (nrbp) edge[isa] (rbp);
    \path (rcp) edge[isa] (rbp);
    \path (cellcomm) edge[isa] (cellproc);
    \path (mitoloc) edge[isa] (orgloc);
    \path (mch) edge[isa] (mih);
    \path (imih) edge[isa] (ichh);
    \path (imih) edge[isa] (mih);
    \path (nrcp) edge[isa] (nrbp);
    \path (nrcp) edge[isa] (rcp);
    \path (rcc) edge[isa] (rcp);
    \path (ccs) edge[isa] (cellcomm);
    \path (emloc) edge[isa] (mitoloc);
    \path (emloc) edge[isa] (eorgloc);
    \path (caih) edge[isa] (mch);
    \path (imch) edge[isa] (mch);
    \path (imch) edge[isa] (imih);
    \path (synsig) edge[isa] (ccs);
    \path (prcc) edge[isa] (rcc);
    \path (icch) edge[isa] (caih);
    \path (icch) edge[isa] (imch);
    \path (tss) edge[isa] (synsig);
    \path (mitodist) edge[isa] (mitoloc);
    \path (atss) edge[isa] (tss);
    \path (rtss) edge[isa] (rcc);
    \path (rseqca) edge[isa] (iih);
    \path (nrseqca) edge[isa] (rseqca);
    \path (cst) edge[isa] (atss);
    \path (stgaba) edge[isa] (cst);
    \path (mcst) edge[isa] (rtss);
    \path (prst) edge[isa] (mcst);
    \path (rstg) edge[isa] (mcst);
    \path (prstg) edge[isa] (rstg);
    \path (prstg) edge[isa] (prst);
    \draw[isa] (seqca) .. controls (4830,420) and (4835,260) .. (mlc);
    \draw[isa] (nrseqca) .. controls (4900,540) and (4915,350) .. (nrcp);
    \path (rbp) edge[regul] (bp);
    \path (rcp) edge[regul] (cellproc);
    \path (rcc) edge[regul] (cellcomm);
    \path (rtss) edge[regul] (tss);
    \path (rseqca) edge[regul] (seqca);
    \path (mcst) edge[regul] (cst);
    \path (rstg) edge[regul] (stgaba);
    \path (nrbp) edge[negreg] (bp);
    \path (nrcp) edge[negreg] (cellproc);
    \path (nrseqca) edge[negreg] (seqca);
    \path (prst) edge[posreg] (cst);
    \path (prstg) edge[posreg] (stgaba);
    \path (seqca) edge[partof] (icch);

    \path (rbp) edge[isa] (bioreg);
    \path (prbp) edge[isa] (rbp);
    \path (crs) edge[isa] (rts);
    \path (crs) edge[isa] (cellproc);
    \path (rrs) edge[isa] (rbp);
    \path (prrs) edge[isa] (rrs);
    \path (prrs) edge[isa] (prbp);
    \path (res) edge[isa] (rts);
    \path (rsig) edge[isa] (rbp);
    \path (rsig) edge[isa] (rcc);
    \path (rsigt) edge[isa] (rsig);
    \path (rsigt) edge[isa] (rrs);
    \path (psig) edge[isa] (rsig);
    \path (psig) edge[isa] (prcc);
    \path (psig) edge[isa] (prbp);
    \path (psigt) edge[isa] (rsigt);
    \path (psigt) edge[isa] (psig);
    \path (psigt) edge[isa] (prrs);
    \path (csrsp) edge[isa] (sigt);
    \path (elrsp) edge[isa] (csrsp);
    \path (ntsp) edge[isa] (csrsp);
    \path (crgf) edge[isa] (rgf);
    \path (crgf) edge[isa] (cres);
    \path (rgf) edge[isa] (res);
    \path (cres) edge[isa] (res);
    \path (cres) edge[isa] (crs);
    \path (trptk) edge[isa] (elrsp);
    \path (ntrk) edge[isa] (trptk);
    \path (ntrk) edge[isa] (ntsp);
    \path (erbb) edge[isa] (trptk);
    \path (egfr) edge[isa] (erbb);
    \path (regfr) edge[isa] (rerbb);
    \path (regfr) edge[isa] (rsigt);
    \path (perbb) edge[isa] (rerbb);
    \path (perbb) edge[isa] (psigt);
    \path (pegfr) edge[isa] (regfr);
    \path (pegfr) edge[isa] (perbb);
    \path (mitoorg) edge[isa] (orgorg);
    \path (orgasm) edge[isa] (orgorg);
    \path (orgasm) edge[isa] (cca);
    \path (orgorg) edge[isa] (cco);
    \path (rrs) edge[regul] (rts);
    \path (rsig) edge[regul] (signaling);
    \path (rsigt) edge[regul] (sigt);
    \path (rerbb) edge[regul] (erbb);
    \path (regfr) edge[regul] (egfr);
    \path (rorgasm) edge[regul] (orgasm);
    \path (prrs) edge[posreg] (rts);
    \path (psig) edge[posreg] (signaling);
    \path (psigt) edge[posreg] (sigt);
    \path (prcc) edge[posreg] (cellcomm);
    \path (perbb) edge[posreg] (erbb);
    \path (pegfr) edge[posreg] (egfr);
    \path (pcp) edge[posreg] (bp);
    \draw[posreg] (prbp) .. controls (5440,120) and (5200,85) .. (cellproc);
    \path (sigt) edge[partof] (signaling);
    \path (sigt) edge[partof] (crs);
    \path (sigt) edge[partof] (cellcomm);
    \path (ntsp) edge[partof] (crgf);

    \path (ccob) edge[isa] (cellproc);
    \path (cco) edge[isa] (ccob);
    \path (ccb) edge[isa] (ccob);
    \path (rcco) edge[isa] (rcp);
    \path (pcp) edge[isa] (rcp);
    \path (pcp) edge[isa] (prbp);
    \path (cca) edge[isa] (cco);
    \path (cpo) edge[isa] (cco);
    \path (rorgorg) edge[isa] (rcco);
    \path (pcco) edge[isa] (rcco);
    \path (pcco) edge[isa] (pcp);
    \path (ibasm) edge[isa] (cca);
    \path (rcpo) edge[isa] (rcco);
    \path (rccb) edge[isa] (rcp);
    \path (pmbcpo) edge[isa] (cpo);
    \path (ciliumorg) edge[isa] (orgorg);
    \path (ciliumorg) edge[isa] (pmbcpo);
    \path (porgorg) edge[isa] (rorgorg);
    \path (porgorg) edge[isa] (pcco);
    \path (pcpo) edge[isa] (rcpo);
    \path (pcpo) edge[isa] (pcco);
    \path (ribasm) edge[isa] (rcco);
    \path (rpmbcpo) edge[isa] (rcpo);
    \path (rcpa) edge[isa] (rcpo);
    \path (rcpa) edge[isa] (rccb);
    \path (pccb) edge[isa] (rccb);
    \path (ciliumasm) edge[isa] (ciliumorg);
    \path (ciliumasm) edge[isa] (orgasm);
    \path (ciliumasm) edge[isa] (pmbcpa);
    \path (porgasm) edge[isa] (rorgasm);
    \path (porgasm) edge[isa] (porgorg);
    \path (pibasm) edge[isa] (ribasm);
    \path (rpmbcpa) edge[isa] (rpmbcpo);
    \path (rpmbcpa) edge[isa] (rcpa);
    \path (nmca) edge[isa] (ciliumasm);
    \path (rca) edge[isa] (rpmbcpa);
    \path (rca) edge[isa] (rorgasm);
    \path (ppmbcpa) edge[isa] (rpmbcpa);
    \path (ppmbcpa) edge[isa] (pccb);
    \path (rnmca) edge[isa] (rca);
    \path (pca) edge[isa] (rca);
    \path (pca) edge[isa] (ppmbcpa);
    \path (pca) edge[isa] (porgasm);
    \path (pnmca) edge[isa] (rnmca);
    \path (pnmca) edge[isa] (pca);
    \path (rnpd) edge[isa] (rcpo);
    \path (pnpd) edge[isa] (rnpd);
    \path (npd) edge[isa] (pmbcpo);
    \path (cpa) edge[isa] (cca);
    \path (cpa) edge[isa] (cpo);
    \path (pmbcpa) edge[isa] (cpa);
    \path (pmbcpa) edge[isa] (pmbcpo);
    \draw[isa] (pnpd) .. controls (5830,720) and (5840,430) .. (pcpo);
    \path (rorgorg) edge[regul] (orgorg);
    \path (rcco) edge[regul] (cco);
    \path (rcpo) edge[regul] (cpo);
    \path (rccb) edge[regul] (ccb);
    \path (ribasm) edge[regul] (ibasm);
    \path (rpmbcpo) edge[regul] (pmbcpo);
    \path (rpmbcpa) edge[regul] (pmbcpa);
    \path (rca) edge[regul] (ciliumasm);
    \path (rnmca) edge[regul] (nmca);
    \path (rnpd) edge[regul] (npd);
    \path (pcco) edge[posreg] (cco);
    \path (pcpo) edge[posreg] (cpo);
    \path (pibasm) edge[posreg] (ibasm);
    \path (pccb) edge[posreg] (ccb);
    \path (porgasm) edge[posreg] (orgasm);
    \path (porgorg) edge[posreg] (orgorg);
    \path (ppmbcpa) edge[posreg] (pmbcpa);
    \path (pca) edge[posreg] (ciliumasm);
    \path (pnmca) edge[posreg] (nmca);
    \path (pnpd) edge[posreg] (npd);
    \path (cca) edge[partof] (ccb);
    \path (npd) edge[partof] (neurdev);

    \path (cdp) edge[isa] (devproc);
    \path (cdp) edge[isa] (cellproc);
    \path (celldiff) edge[isa] (cdp);
    \path (rdp) edge[isa] (rbp);
    \path (rmop) edge[isa] (rbp);
    \path (pdp) edge[isa] (rdp);
    \path (pdp) edge[isa] (prbp);
    \path (rcd) edge[isa] (rdp);
    \path (celldev) edge[isa] (asd);
    \path (pmop) edge[isa] (rmop);
    \path (pmop) edge[isa] (prbp);
    \path (pcd) edge[isa] (rcd);
    \path (pcd) edge[isa] (pdp);
    \path (rcdev) edge[isa] (rcd);
    \path (pcdev) edge[isa] (rcdev);
    \path (pcdev) edge[isa] (pcd);
    \path (rnsd) edge[isa] (rmod);
    \path (pnsd) edge[isa] (rnsd);
    \path (pnsd) edge[isa] (pmop);
    \path (rneurog) edge[isa] (rnsd);
    \path (rneurog) edge[isa] (rcdev);
    \path (genneur) edge[isa] (neurog);
    \path (pneurog) edge[isa] (pnsd);
    \path (pneurog) edge[isa] (rneurog);
    \path (pneurog) edge[isa] (pcdev);
    \path (neurog) edge[isa] (celldiff);
    \path (nsd) edge[isa] (sysdev);
    \path (rmod) edge[isa] (rmop);
    \path (mod) edge[isa] (asd);
    \path (mod) edge[isa] (mop);
    \draw[isa] (celldev) .. controls (6820,200) and (6760,150) .. (cdp);
    \draw[isa] (neurdev) .. controls (6660,430) and (6760,290) .. (celldev);
    \draw[isa] (neurdiff) .. controls (6560,420) and (6580,215) .. (celldiff);
    \path (rdp) edge[regul] (devproc);
    \path (rmop) edge[regul] (mop);
    \path (rcd) edge[regul] (celldiff);
    \path (rcdev) edge[regul] (celldev);
    \path (rnsd) edge[regul] (nsd);
    \path (rneurog) edge[regul] (neurog);
    \path (rmod) edge[regul] (mod);
    \path (pmop) edge[posreg] (mop);
    \path (pcd) edge[posreg] (celldiff);
    \path (pcdev) edge[posreg] (celldev);
    \path (pnsd) edge[posreg] (nsd);
    \path (pneurog) edge[posreg] (neurog);
    \draw[posreg] (pdp) .. controls (6610,180) and (6620,110) .. (devproc);
    \path (celldev) edge[partof] (celldiff);
    \path (neurog) edge[partof] (nsd);
    \path (neurdiff) edge[partof] (genneur);
    \path (neurdev) edge[partof] (neurdiff);

    \path (asd) edge[isa] (devproc);
    \path (headdev) edge[isa] (asd);
    \path (aod) edge[isa] (asd);
    \path (sysdev) edge[isa] (asd);
    \path (cnsd) edge[isa] (sysdev);
    \path (braindev) edge[isa] (aod);
    \path (forebrain) edge[isa] (asd);
    \path (dienc) edge[isa] (asd);
    \path (ntprod) edge[isa] (mop);
    \path (rntprod) edge[isa] (rmop);
    \path (pntprod) edge[isa] (rntprod);
    \path (pntprod) edge[isa] (pmop);
    \draw[isa] (hcd) .. controls (7065,620) and (7075,330) .. (celldiff);
    \draw[isa] (hypodev) .. controls (7150,450) and (7160,200) .. (asd);
    \draw[isa] (cerebellum) .. controls (7530,430) and (7560,160) .. (asd);
    \draw[isa] (metenc) .. controls (7700,420) and (7690,180) .. (asd);
    \draw[isa] (hindbrain) .. controls (7590,300) and (7560,160) .. (asd);
    \draw[isa] (limbic) .. controls (7375,530) and (7360,400) .. (sysdev);
    \path (rntprod) edge[regul] (ntprod);
    \path (pntprod) edge[posreg] (ntprod);
    \path (sysdev) edge[partof] (mod);
    \path (cnsd) edge[partof] (nsd);
    \path (braindev) edge[partof] (cnsd);
    \path (braindev) edge[partof] (headdev);
    \path (forebrain) edge[partof] (braindev);
    \path (hindbrain) edge[partof] (braindev);
    \path (dienc) edge[partof] (forebrain);
    \path (limbic) edge[partof] (forebrain);
    \path (metenc) edge[partof] (hindbrain);
    \path (hypodev) edge[partof] (dienc);
    \path (hypodev) edge[partof] (limbic);
    \path (cerebellum) edge[partof] (metenc);
    \path (hcd) edge[partof] (hypodev);
  \end{scope}
\end{tikzpicture}
\end{document}
